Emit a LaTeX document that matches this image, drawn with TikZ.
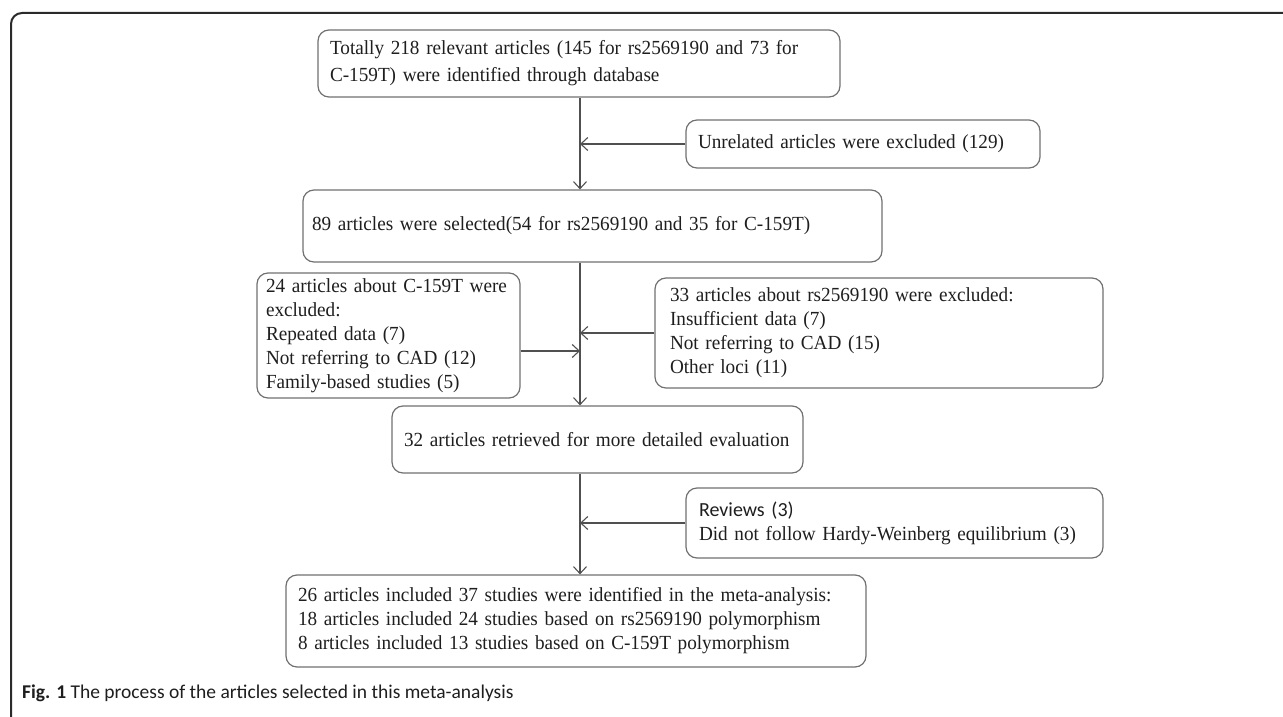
\documentclass[tikz,border=0pt]{standalone}
\usepackage{fontspec}
\setmainfont[FakeStretch=0.96]{Liberation Serif}
\newfontfamily\calib{Carlito}
\usetikzlibrary{arrows.meta}
\definecolor{boxc}{HTML}{707070}
\definecolor{linec}{HTML}{505050}
\definecolor{txt}{HTML}{1E1E1E}
\definecolor{frm}{HTML}{2A2A2A}
\tikzset{
  box/.style={draw=boxc, line width=1.2pt, rounded corners=11pt, inner xsep=12pt, inner ysep=0pt,
    align=left, text=txt, font=\fontsize{20}{24}\selectfont},
  conn/.style={draw=linec, line width=1.2pt},
  arr/.style={conn, -{Straight Barb[length=7pt,width=13pt,line width=1.1pt]}},
  framestyle/.style={draw=frm, line width=2pt, rounded corners=11pt}
}
\begin{document}
\hyphenpenalty=10000
\exhyphenpenalty=10000
\begin{tikzpicture}[x=1pt,y=-1pt]
\useasboundingbox (0,0) rectangle (1283,717);
\draw[framestyle] (11,717) -- (11,13) -- (1290,13);

\coordinate (trunk) at (580,0);

\node[box, minimum width=522pt, minimum height=67pt, text width=498pt, font=\fontsize{20}{27}\selectfont] (b1) at (579,63.5)
  {Totally 218 relevant articles (145 for rs2569190 and 73 for\\C-159T) were identified through database};
\node[box, minimum width=354pt, minimum height=48pt, text width=330pt] (un) at (863,144)
  {Unrelated articles were excluded (129)};
\node[box, minimum width=579pt, minimum height=72pt, text width=561pt, inner xsep=9pt] (b2) at (592.5,226)
  {89 articles were selected(54 for rs2569190 and 35 for C-159T)};
\node[box, minimum width=263pt, minimum height=125pt, text width=245pt, inner xsep=9pt] (lb) at (388.5,335.5)
  {24 articles about C-159T were\\excluded:\\Repeated data (7)\\Not referring to CAD (12)\\Family-based studies (5)};
\node[box, minimum width=448pt, minimum height=110pt, text width=418pt, inner xsep=15pt] (rb) at (879,333)
  {33 articles about rs2569190 were excluded:\\Insufficient data (7)\\Not referring to CAD (15)\\Other loci (11)};
\node[box, minimum width=411pt, minimum height=67pt, text width=387pt, inner xsep=12pt] (b32) at (597.5,439.5)
  {32 articles retrieved for more detailed evaluation};
\node[box, minimum width=417pt, minimum height=70pt, text width=391pt, inner xsep=13pt] (rv) at (894.5,523)
  {{\calib Reviews (3)}\\Did not follow Hardy-Weinberg equilibrium (3)};
\node[box, minimum width=580pt, minimum height=92pt, text width=556pt] (fin) at (576,621)
  {26 articles included 37 studies were identified in the meta-analysis:\\18 articles included 24 studies based on rs2569190 polymorphism\\8 articles included 13 studies based on C-159T polymorphism};

\node[anchor=base west, inner sep=0pt, text=txt, font=\calib\fontsize{19.5}{24}\selectfont] (cap) at (22,698)
  {\textbf{Fig. 1} The process of the articles selected in this meta-analysis};

\coordinate (la) at (580,351);
\draw[arr] (b1.south -| trunk) -- (b2.north -| trunk);
\draw[arr] (un.west) -- (un.west -| trunk);
\draw[arr] (b2.south -| trunk) -- (b32.north -| trunk);
\draw[arr] (lb.east |- la) -- (la);
\draw[arr] (rb.west) -- (rb.west -| trunk);
\draw[arr] (b32.south -| trunk) -- (fin.north -| trunk);
\draw[arr] (rv.west) -- (rv.west -| trunk);
\end{tikzpicture}
\end{document}
